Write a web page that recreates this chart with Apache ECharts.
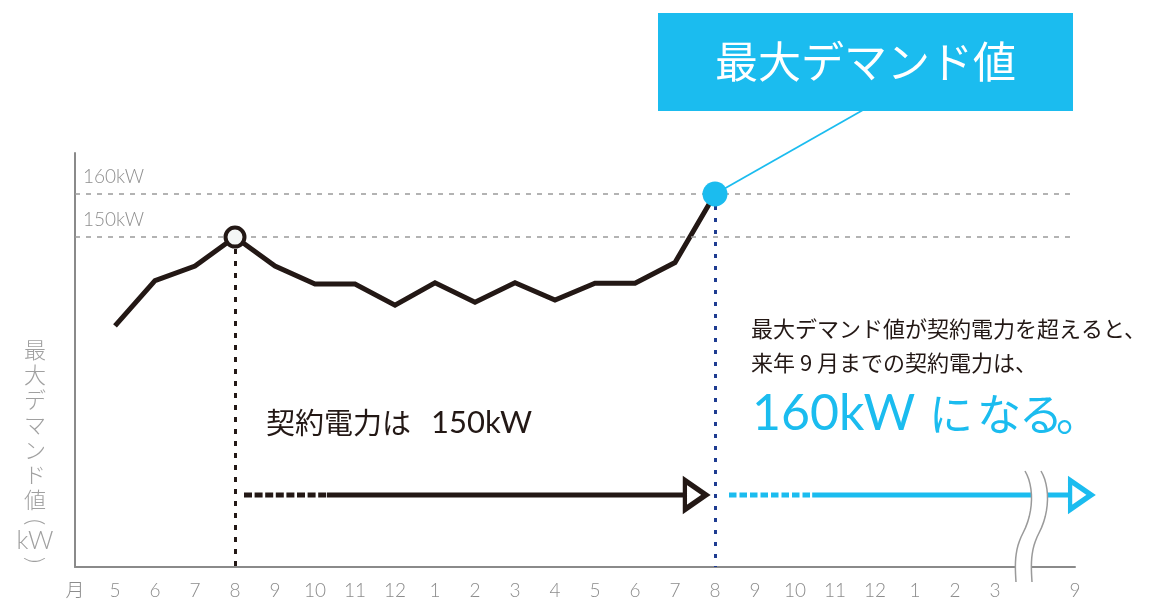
<!DOCTYPE html>
<html>
<head>
<meta charset="utf-8">
<script src="https://cdn.jsdelivr.net/npm/echarts@6/dist/echarts.min.js"></script>
<style>html,body{margin:0;padding:0;background:#fff}#c{width:1157px;height:602px}</style>
</head>
<body>
<div id="c"></div>
<script>
// ---- data ----
const tickLabels = ['月','5','6','7','8','9','10','11','12','1','2','3','4','5','6','7','8','9','10','11','12','1','2','3','','9'];
const monthIndex = [0,1,2,3,4,5,6,7,8,9,10,11,12,13,14,15];
const demand = [129.4,139.9,143.3,150,143.3,139.1,139.1,134.2,139.4,134.9,139.4,135.4,139.3,139.3,144.1,160];
const guideValues = [150,160];
const guideLabels = ['150kW','160kW'];
const contractPoint = [3,150];
const maxPoint = [15,160];
const arrowLevel = 90.2;
const blackArrowX = [3.225, 5.3, 14.45, 14.51];
const blueArrowX = [15.35, 17.43, 24.0, 24.14];
const breakX = 22.9;
const yMin = 73.5, yMax = 169.5;

const INK = '#231815', BLUE = '#1bbcef', NAVY = '#1e3c91', GRAY = '#8c8c8c';
const JP = '"Noto Sans CJK JP", sans-serif';
const LATIN = 'Lato, "Noto Sans CJK JP", sans-serif';

const chart = echarts.init(document.getElementById('c'));

function seg(x0, x1, color, dash) {
  return {type:'line', data:[[x0,arrowLevel],[x1,arrowLevel]], symbol:'none', silent:true, clip:false, z:4,
    lineStyle:{color:color, width:5, type:dash || 'solid', cap:'butt'}};
}
function head(x, color) {
  return {type:'scatter', data:[[x,arrowLevel]], symbol:'triangle', symbolRotate:-90, symbolSize:[29,21], clip:false, silent:true, z:5,
    itemStyle:{color:'#ffffff', borderColor:color, borderWidth:5, opacity:1}};
}

const option = {
  animation:false,
  grid:{left:75, right:82, top:153, bottom:35},
  xAxis:{type:'value', min:-1, max:24, interval:1,
    axisLine:{show:true, onZero:false, lineStyle:{color:'#8a8a8a', width:2}},
    axisTick:{show:false}, splitLine:{show:false},
    axisLabel:{show:true, showMinLabel:true, showMaxLabel:true, margin:14, color:GRAY, fontSize:19, fontFamily:LATIN, fontWeight:300,
      formatter: v => { const s = tickLabels[Math.round(v)+1]; return s === undefined ? '' : s; }}},
  yAxis:{type:'value', min:yMin, max:yMax,
    axisLine:{show:true, onZero:false, lineStyle:{color:'#8a8a8a', width:2}},
    axisTick:{show:false}, axisLabel:{show:false}, splitLine:{show:false}},
  series:[
    {type:'line', data: demand.map((v,i)=>[monthIndex[i], v]), symbol:'none', z:3, silent:true,
      lineStyle:{color:INK, width:5, join:'miter'},
      markLine:{silent:true, symbol:'none', animation:false,
        data:[
          ...guideValues.map((v,i)=>({yAxis:v,
            label:{show:true, position:'insideStartTop', formatter:guideLabels[i], color:'#8f8f8f', fontSize:19, fontFamily:LATIN, fontWeight:300, distance:8},
            lineStyle:{color:'#9a9a9a', type:[5,6], width:1.5}})),
          [{coord:[contractPoint[0], contractPoint[1]], label:{show:false}, lineStyle:{color:INK, type:[5,7], width:3}},
           {coord:[contractPoint[0], yMin], label:{show:false}, lineStyle:{color:INK, type:[5,7], width:3}}],
          [{coord:[maxPoint[0], maxPoint[1]], label:{show:false}, lineStyle:{color:NAVY, type:[4,8], width:3}},
           {coord:[maxPoint[0], yMin], label:{show:false}, lineStyle:{color:NAVY, type:[4,8], width:3}}]
        ]}},
    {type:'scatter', data:[contractPoint], symbol:'circle', symbolSize:19, z:6, silent:true,
      itemStyle:{color:'#f4f6f5', borderColor:INK, borderWidth:4, opacity:1}},
    {type:'scatter', data:[maxPoint], symbol:'circle', symbolSize:25, z:6, silent:true,
      itemStyle:{color:BLUE, opacity:1}},
    seg(blackArrowX[0], blackArrowX[1], INK, [8,2.6]),
    seg(blackArrowX[1], blackArrowX[2], INK),
    head(blackArrowX[3], INK),
    seg(blueArrowX[0], blueArrowX[1], BLUE, [7.5,3]),
    seg(blueArrowX[1], blueArrowX[2], BLUE),
    head(blueArrowX[3], BLUE)
  ]
};
chart.setOption(option);

const px = p => chart.convertToPixel({gridIndex:0}, p);

// break mark
function bez(p0,p1,p2,p3,n){ const out=[]; for(let k=0;k<=n;k++){const t=k/n,u=1-t;
  out.push([u*u*u*p0[0]+3*u*u*t*p1[0]+3*u*t*t*p2[0]+t*t*t*p3[0], u*u*u*p0[1]+3*u*u*t*p1[1]+3*u*t*t*p2[1]+t*t*t*p3[1]]);} return out; }
const bc = px([breakX, arrowLevel]);
function curve(dx){
  const cx = bc[0] + dx, cy = bc[1];
  const a = bez([cx-6,cy-24],[cx+3,cy-9],[cx+3,cy+17],[cx-8,cy+38],12);
  const b = bez([cx-8,cy+38],[cx-17,cy+55],[cx-16,cy+71],[cx-15,cy+87],12);
  return a.concat(b.slice(1));
}
const leftC = curve(0), rightC = curve(16);
const fillPts = leftC.concat(rightC.slice().reverse());

const maxPx = px(maxPoint);
const yTitle = ['最','大','デ','マ','ン','ド','値'];
const TITLE_GRAY = '#a0a0a0';
const graphics = [
  {type:'polygon', shape:{points:fillPts}, style:{fill:'#ffffff'}, z:20, silent:true},
  {type:'polyline', shape:{points:leftC}, style:{stroke:'#9a9a9a', lineWidth:1.5, fill:null}, z:21, silent:true},
  {type:'polyline', shape:{points:rightC}, style:{stroke:'#9a9a9a', lineWidth:1.5, fill:null}, z:21, silent:true},
  {type:'line', shape:{x1:maxPx[0], y1:maxPx[1], x2:863, y2:110}, style:{stroke:BLUE, lineWidth:1.8}, z:1, silent:true},
  {type:'rect', shape:{x:658, y:13, width:415, height:98}, style:{fill:BLUE}, z:10, silent:true},
  {type:'text', x:865.5, y:62, z:11, silent:true, style:{text:'最大デマンド値', fill:'#ffffff', fontSize:43, fontFamily:JP, align:'center', verticalAlign:'middle'}},
  {type:'text', x:266, y:423, z:11, silent:true, style:{text:'契約電力は', fill:INK, fontSize:29, fontFamily:JP, align:'left', verticalAlign:'middle'}},
  {type:'text', x:431, y:423, z:11, silent:true, style:{text:'150kW', fill:INK, fontSize:31, fontFamily:LATIN, align:'left', verticalAlign:'middle'}},
  {type:'text', x:751, y:329, z:11, silent:true, style:{text:'最大デマンド値が契約電力を超えると、', fill:INK, fontSize:22, fontFamily:JP, align:'left', verticalAlign:'middle'}},
  {type:'text', x:751, y:363, z:11, silent:true, style:{text:'来年 9 月までの契約電力は、', fill:INK, fontSize:22, fontFamily:JP, align:'left', verticalAlign:'middle'}},
  {type:'text', x:752, y:414, z:11, silent:true, style:{text:'160kW', fill:BLUE, fontSize:50, fontFamily:LATIN, align:'left', verticalAlign:'middle'}},
  {type:'text', x:951, y:414, z:11, silent:true, style:{text:'に', fill:BLUE, fontSize:44, fontFamily:JP, align:'center', verticalAlign:'middle'}},
  {type:'text', x:999, y:414, z:11, silent:true, style:{text:'な', fill:BLUE, fontSize:44, fontFamily:JP, align:'center', verticalAlign:'middle'}},
  {type:'text', x:1041, y:414, z:11, silent:true, style:{text:'る', fill:BLUE, fontSize:44, fontFamily:JP, align:'center', verticalAlign:'middle'}},
  {type:'text', x:1056, y:414, z:11, silent:true, style:{text:'。', fill:BLUE, fontSize:44, fontFamily:JP, align:'left', verticalAlign:'middle'}}
];
yTitle.forEach((ch,i)=>graphics.push({type:'text', x:35, y:350+i*25, z:11, silent:true,
  style:{text:ch, fill:TITLE_GRAY, fontSize:22, fontFamily:JP, fontWeight:300, align:'center', verticalAlign:'middle'}}));
graphics.push({type:'text', x:35, y:522, rotation:-Math.PI/2, z:11, silent:true, style:{text:'(', fill:TITLE_GRAY, fontSize:24, fontFamily:LATIN, fontWeight:300, align:'center', verticalAlign:'middle'}});
graphics.push({type:'text', x:35, y:541, z:11, silent:true, style:{text:'kW', fill:TITLE_GRAY, fontSize:25, fontFamily:LATIN, fontWeight:300, align:'center', verticalAlign:'middle'}});
graphics.push({type:'text', x:35, y:560, rotation:-Math.PI/2, z:11, silent:true, style:{text:')', fill:TITLE_GRAY, fontSize:24, fontFamily:LATIN, fontWeight:300, align:'center', verticalAlign:'middle'}});

chart.setOption({graphic: graphics});
</script>
</body>
</html>
